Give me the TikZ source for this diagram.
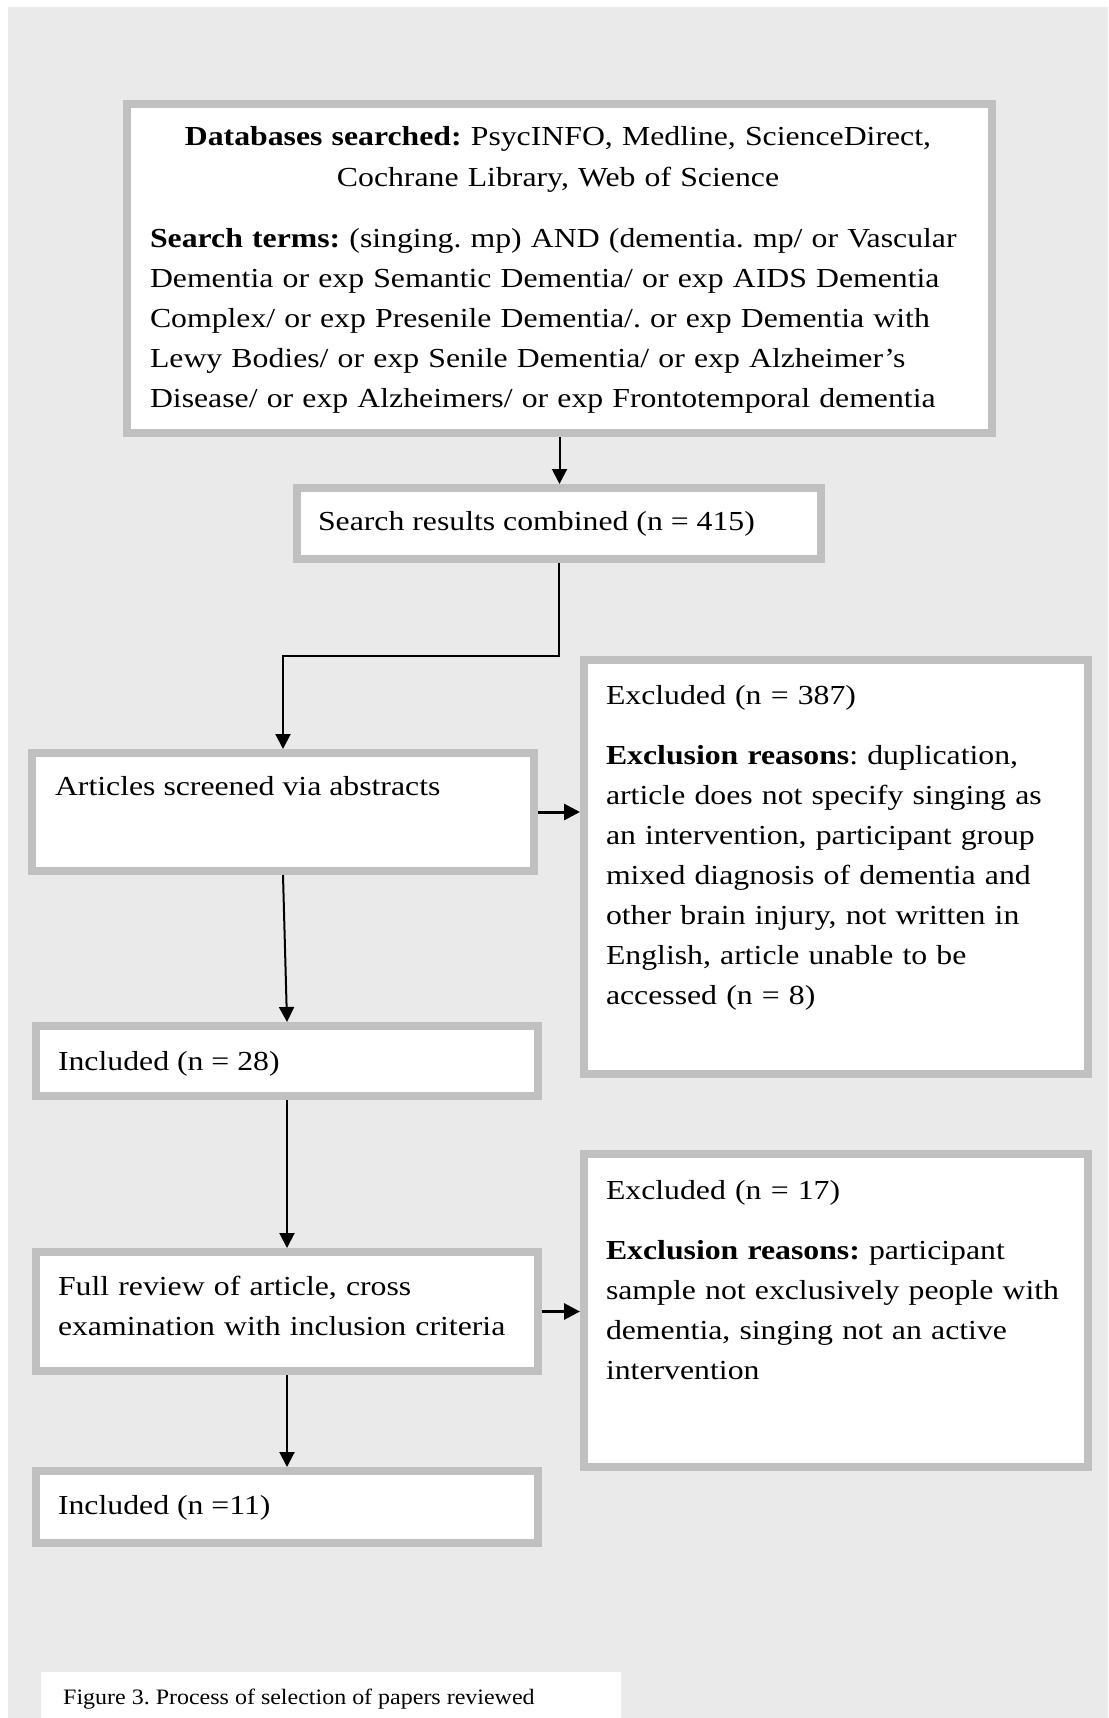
\documentclass[tikz,border=0pt]{standalone}
\usepackage{fontspec}
\setmainfont{Liberation Serif}[FakeStretch=1.155]
\newfontfamily\capfont{Liberation Serif}[FakeStretch=1.09]
\usetikzlibrary{arrows.meta}
\definecolor{pagegray}{RGB}{234,234,234}
\definecolor{framegray}{RGB}{192,192,192}
\frenchspacing

\begin{document}
\begin{tikzpicture}[x=1pt,y=-1pt,
  box/.style={draw=framegray, line width=8pt, fill=white, rectangle,
              inner sep=0pt, outer sep=4pt},
  txt/.style={anchor=base west, inner sep=0pt, outer sep=0pt, align=left,
              font=\frenchspacing\fontsize{27.5}{40}\selectfont},
  flow/.style={line width=2pt, -{Triangle[length=15pt,width=15pt]}},
  side/.style={line width=3pt, -{Triangle[length=16pt,width=16pt]}}]

\useasboundingbox (0,0) rectangle (1108,1718);
\fill[white] (0,0) rectangle (1108,1718);
\fill[pagegray] (8,7) rectangle (1108,1718);

% frames
\node[box, minimum width=865pt, minimum height=329pt] (b1) at (559.5,268.5) {};
\node[box, minimum width=524pt, minimum height=71pt]  (b2) at (559,523.5) {};
\node[box, minimum width=502pt, minimum height=118pt] (b3) at (283,812) {};
\node[box, minimum width=504pt, minimum height=414pt] (b4) at (836,867) {};
\node[box, minimum width=502pt, minimum height=70pt]  (b5) at (287,1061) {};
\node[box, minimum width=502pt, minimum height=119pt] (b6) at (287,1311.5) {};
\node[box, minimum width=504pt, minimum height=313pt] (b7) at (836,1310.5) {};
\node[box, minimum width=502pt, minimum height=72pt]  (b8) at (287,1507) {};

% texts
\node[txt, anchor=base, text width=816pt, align=center] (t1a) at (558,146)
  {\textbf{Databases searched:} PsycINFO, Medline, ScienceDirect,\\
   Cochrane Library, Web of Science};
\node[txt, text width=900pt] (t1b) at (150,247)
  {\textbf{Search terms:} (singing. mp) AND (dementia. mp/ or Vascular\\
   Dementia or exp Semantic Dementia/ or exp AIDS Dementia\\
   Complex/ or exp Presenile Dementia/. or exp Dementia with\\
   Lewy Bodies/ or exp Senile Dementia/ or exp Alzheimer’s\\
   Disease/ or exp Alzheimers/ or exp Frontotemporal dementia};
\node[txt] (t2) at (318,530) {Search results combined (n = 415)};
\node[txt] (t3) at (55,795) {Articles screened via abstracts};
\node[txt, text width=475pt] (t4) at (606,704)
  {Excluded (n = 387)\\[20pt]
   \textbf{Exclusion reasons}: duplication,\\
   article does not specify singing as\\
   an intervention, participant group\\
   mixed diagnosis of dementia and\\
   other brain injury, not written in\\
   English, article unable to be\\
   accessed (n = 8)};
\node[txt] (t5) at (58,1070) {Included (n = 28)};
\node[txt, text width=475pt] (t6) at (58,1295)
  {Full review of article, cross\\
   examination with inclusion criteria};
\node[txt, text width=475pt] (t7) at (606,1199)
  {Excluded (n = 17)\\[20pt]
   \textbf{Exclusion reasons:} participant\\
   sample not exclusively people with\\
   dementia, singing not an active\\
   intervention};
\node[txt] (t8) at (58,1514) {Included (n =11)};

% connectors
\draw[flow] (b1.south) -- (b1.south |- b2.north);
\draw[flow] (b2.south) -- ++(0,93) -| (b3.north);
\draw[side] (b3.east) -- (b3.east -| b4.west);
\draw[flow] (b3.south) -- (b5.north);
\draw[flow] (b5.south) -- (b6.north);
\draw[side] (b6.east) -- (b6.east -| b7.west);
\draw[flow] (b6.south) -- (b8.north);

% caption
\node[fill=white, inner sep=0pt, outer sep=0pt, anchor=north west,
      minimum width=580pt, minimum height=46pt] (capbox) at (41,1672) {};
\node[anchor=base west, inner sep=0pt,
      font=\frenchspacing\capfont\fontsize{22}{26}\selectfont]
  (cap) at (63,1704) {Figure 3. Process of selection of papers reviewed};
\end{tikzpicture}
\end{document}
